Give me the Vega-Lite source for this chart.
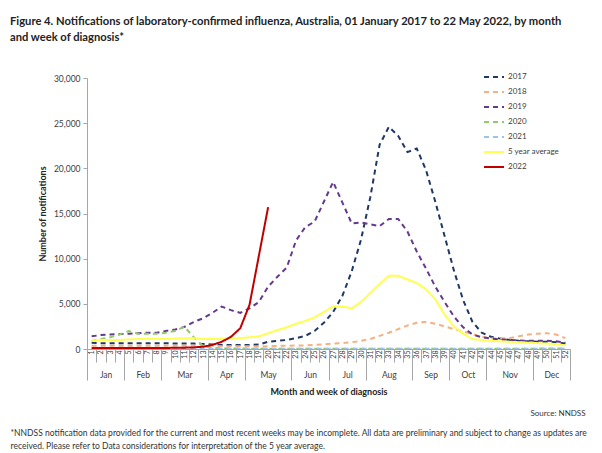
{
  "$schema": "https://vega.github.io/schema/vega-lite/v6.json",
  "width": 483,
  "height": 271,
  "autosize": {"type": "none"},
  "padding": {"left": 87, "top": 78, "right": 32, "bottom": 104},
  "title": {
    "text": ["Figure 4. Notifications of laboratory-confirmed influenza, Australia, 01 January 2017 to 22 May 2022, by month", "and week of diagnosis*"],
    "anchor": "start",
    "frame": "group",
    "dx": -77,
    "fontSize": 11.2,
    "fontWeight": "bold",
    "color": "#222222",
    "lineHeight": 16,
    "offset": 23
  },
  "datasets": {
    "months": [
      {"month": "Jan", "first": 1, "last": 4},
      {"month": "Feb", "first": 5, "last": 8},
      {"month": "Mar", "first": 9, "last": 13},
      {"month": "Apr", "first": 14, "last": 17},
      {"month": "May", "first": 18, "last": 22},
      {"month": "Jun", "first": 23, "last": 26},
      {"month": "Jul", "first": 27, "last": 30},
      {"month": "Aug", "first": 31, "last": 35},
      {"month": "Sep", "first": 36, "last": 39},
      {"month": "Oct", "first": 40, "last": 43},
      {"month": "Nov", "first": 44, "last": 48},
      {"month": "Dec", "first": 49, "last": 52}
    ],
    "flu": [
      {"w":1,"s":"2017","v":700},{"w":2,"s":"2017","v":650},{"w":3,"s":"2017","v":650},{"w":4,"s":"2017","v":650},{"w":5,"s":"2017","v":650},{"w":6,"s":"2017","v":650},{"w":7,"s":"2017","v":650},{"w":8,"s":"2017","v":650},{"w":9,"s":"2017","v":650},{"w":10,"s":"2017","v":600},
      {"w":11,"s":"2017","v":600},{"w":12,"s":"2017","v":600},{"w":13,"s":"2017","v":550},{"w":14,"s":"2017","v":500},{"w":15,"s":"2017","v":450},{"w":16,"s":"2017","v":450},{"w":17,"s":"2017","v":450},{"w":18,"s":"2017","v":450},{"w":19,"s":"2017","v":500},{"w":20,"s":"2017","v":800},
      {"w":21,"s":"2017","v":900},{"w":22,"s":"2017","v":1000},{"w":23,"s":"2017","v":1200},{"w":24,"s":"2017","v":1450},{"w":25,"s":"2017","v":2000},{"w":26,"s":"2017","v":2900},{"w":27,"s":"2017","v":4100},{"w":28,"s":"2017","v":5900},{"w":29,"s":"2017","v":8600},{"w":30,"s":"2017","v":12100},
      {"w":31,"s":"2017","v":16800},{"w":32,"s":"2017","v":22600},{"w":33,"s":"2017","v":24600},{"w":34,"s":"2017","v":23600},{"w":35,"s":"2017","v":21800},{"w":36,"s":"2017","v":22200},{"w":37,"s":"2017","v":19800},{"w":38,"s":"2017","v":16300},{"w":39,"s":"2017","v":12500},{"w":40,"s":"2017","v":8700},
      {"w":41,"s":"2017","v":5400},{"w":42,"s":"2017","v":3000},{"w":43,"s":"2017","v":1800},{"w":44,"s":"2017","v":1350},{"w":45,"s":"2017","v":1150},{"w":46,"s":"2017","v":1000},{"w":47,"s":"2017","v":900},{"w":48,"s":"2017","v":850},{"w":49,"s":"2017","v":800},{"w":50,"s":"2017","v":800},
      {"w":51,"s":"2017","v":750},{"w":52,"s":"2017","v":600},

      {"w":1,"s":"2018","v":350},{"w":2,"s":"2018","v":350},{"w":3,"s":"2018","v":350},{"w":4,"s":"2018","v":350},{"w":5,"s":"2018","v":350},{"w":6,"s":"2018","v":350},{"w":7,"s":"2018","v":350},{"w":8,"s":"2018","v":350},{"w":9,"s":"2018","v":350},{"w":10,"s":"2018","v":350},
      {"w":11,"s":"2018","v":350},{"w":12,"s":"2018","v":350},{"w":13,"s":"2018","v":350},{"w":14,"s":"2018","v":350},{"w":15,"s":"2018","v":300},{"w":16,"s":"2018","v":300},{"w":17,"s":"2018","v":300},{"w":18,"s":"2018","v":300},{"w":19,"s":"2018","v":250},{"w":20,"s":"2018","v":300},
      {"w":21,"s":"2018","v":350},{"w":22,"s":"2018","v":350},{"w":23,"s":"2018","v":400},{"w":24,"s":"2018","v":400},{"w":25,"s":"2018","v":450},{"w":26,"s":"2018","v":500},{"w":27,"s":"2018","v":600},{"w":28,"s":"2018","v":650},{"w":29,"s":"2018","v":750},{"w":30,"s":"2018","v":900},
      {"w":31,"s":"2018","v":1100},{"w":32,"s":"2018","v":1450},{"w":33,"s":"2018","v":1800},{"w":34,"s":"2018","v":2200},{"w":35,"s":"2018","v":2600},{"w":36,"s":"2018","v":2900},{"w":37,"s":"2018","v":3000},{"w":38,"s":"2018","v":2800},{"w":39,"s":"2018","v":2500},{"w":40,"s":"2018","v":2200},
      {"w":41,"s":"2018","v":1950},{"w":42,"s":"2018","v":1650},{"w":43,"s":"2018","v":1350},{"w":44,"s":"2018","v":1200},{"w":45,"s":"2018","v":1150},{"w":46,"s":"2018","v":1200},{"w":47,"s":"2018","v":1400},{"w":48,"s":"2018","v":1600},{"w":49,"s":"2018","v":1700},{"w":50,"s":"2018","v":1750},
      {"w":51,"s":"2018","v":1600},{"w":52,"s":"2018","v":1200},

      {"w":1,"s":"2019","v":1400},{"w":2,"s":"2019","v":1550},{"w":3,"s":"2019","v":1600},{"w":4,"s":"2019","v":1650},{"w":5,"s":"2019","v":1700},{"w":6,"s":"2019","v":1750},{"w":7,"s":"2019","v":1800},{"w":8,"s":"2019","v":1800},{"w":9,"s":"2019","v":2000},{"w":10,"s":"2019","v":2150},
      {"w":11,"s":"2019","v":2450},{"w":12,"s":"2019","v":3000},{"w":13,"s":"2019","v":3400},{"w":14,"s":"2019","v":4000},{"w":15,"s":"2019","v":4700},{"w":16,"s":"2019","v":4300},{"w":17,"s":"2019","v":4000},{"w":18,"s":"2019","v":4500},{"w":19,"s":"2019","v":5200},{"w":20,"s":"2019","v":6900},
      {"w":21,"s":"2019","v":8000},{"w":22,"s":"2019","v":9000},{"w":23,"s":"2019","v":12000},{"w":24,"s":"2019","v":13500},{"w":25,"s":"2019","v":14100},{"w":26,"s":"2019","v":16300},{"w":27,"s":"2019","v":18500},{"w":28,"s":"2019","v":16200},{"w":29,"s":"2019","v":13900},{"w":30,"s":"2019","v":14000},
      {"w":31,"s":"2019","v":13800},{"w":32,"s":"2019","v":13600},{"w":33,"s":"2019","v":14400},{"w":34,"s":"2019","v":14400},{"w":35,"s":"2019","v":13000},{"w":36,"s":"2019","v":10800},{"w":37,"s":"2019","v":8900},{"w":38,"s":"2019","v":6900},{"w":39,"s":"2019","v":5200},{"w":40,"s":"2019","v":3600},
      {"w":41,"s":"2019","v":2400},{"w":42,"s":"2019","v":1600},{"w":43,"s":"2019","v":1300},{"w":44,"s":"2019","v":1150},{"w":45,"s":"2019","v":1050},{"w":46,"s":"2019","v":1000},{"w":47,"s":"2019","v":950},{"w":48,"s":"2019","v":900},{"w":49,"s":"2019","v":900},{"w":50,"s":"2019","v":900},
      {"w":51,"s":"2019","v":850},{"w":52,"s":"2019","v":700},

      {"w":1,"s":"2020","v":900},{"w":2,"s":"2020","v":1100},{"w":3,"s":"2020","v":1300},{"w":4,"s":"2020","v":1600},{"w":5,"s":"2020","v":2000},{"w":6,"s":"2020","v":1700},{"w":7,"s":"2020","v":1700},{"w":8,"s":"2020","v":1700},{"w":9,"s":"2020","v":1800},{"w":10,"s":"2020","v":2000},
      {"w":11,"s":"2020","v":2450},{"w":12,"s":"2020","v":1300},{"w":13,"s":"2020","v":300},{"w":14,"s":"2020","v":120},{"w":15,"s":"2020","v":80},{"w":16,"s":"2020","v":60},{"w":17,"s":"2020","v":50},{"w":18,"s":"2020","v":40},{"w":19,"s":"2020","v":40},{"w":20,"s":"2020","v":30},
      {"w":21,"s":"2020","v":30},{"w":22,"s":"2020","v":30},{"w":23,"s":"2020","v":30},{"w":24,"s":"2020","v":20},{"w":25,"s":"2020","v":20},{"w":26,"s":"2020","v":20},{"w":27,"s":"2020","v":20},{"w":28,"s":"2020","v":20},{"w":29,"s":"2020","v":20},{"w":30,"s":"2020","v":20},
      {"w":31,"s":"2020","v":20},{"w":32,"s":"2020","v":20},{"w":33,"s":"2020","v":20},{"w":34,"s":"2020","v":20},{"w":35,"s":"2020","v":20},{"w":36,"s":"2020","v":20},{"w":37,"s":"2020","v":20},{"w":38,"s":"2020","v":20},{"w":39,"s":"2020","v":20},{"w":40,"s":"2020","v":20},
      {"w":41,"s":"2020","v":30},{"w":42,"s":"2020","v":30},{"w":43,"s":"2020","v":30},{"w":44,"s":"2020","v":30},{"w":45,"s":"2020","v":40},{"w":46,"s":"2020","v":40},{"w":47,"s":"2020","v":40},{"w":48,"s":"2020","v":40},{"w":49,"s":"2020","v":40},{"w":50,"s":"2020","v":50},
      {"w":51,"s":"2020","v":50},{"w":52,"s":"2020","v":50},

      {"w":1,"s":"2021","v":40},{"w":2,"s":"2021","v":40},{"w":3,"s":"2021","v":40},{"w":4,"s":"2021","v":40},{"w":5,"s":"2021","v":40},{"w":6,"s":"2021","v":40},{"w":7,"s":"2021","v":40},{"w":8,"s":"2021","v":40},{"w":9,"s":"2021","v":40},{"w":10,"s":"2021","v":40},
      {"w":11,"s":"2021","v":40},{"w":12,"s":"2021","v":40},{"w":13,"s":"2021","v":40},{"w":14,"s":"2021","v":30},{"w":15,"s":"2021","v":30},{"w":16,"s":"2021","v":30},{"w":17,"s":"2021","v":30},{"w":18,"s":"2021","v":30},{"w":19,"s":"2021","v":30},{"w":20,"s":"2021","v":30},
      {"w":21,"s":"2021","v":20},{"w":22,"s":"2021","v":20},{"w":23,"s":"2021","v":20},{"w":24,"s":"2021","v":20},{"w":25,"s":"2021","v":20},{"w":26,"s":"2021","v":20},{"w":27,"s":"2021","v":20},{"w":28,"s":"2021","v":20},{"w":29,"s":"2021","v":20},{"w":30,"s":"2021","v":20},
      {"w":31,"s":"2021","v":20},{"w":32,"s":"2021","v":20},{"w":33,"s":"2021","v":20},{"w":34,"s":"2021","v":20},{"w":35,"s":"2021","v":20},{"w":36,"s":"2021","v":20},{"w":37,"s":"2021","v":20},{"w":38,"s":"2021","v":20},{"w":39,"s":"2021","v":20},{"w":40,"s":"2021","v":20},
      {"w":41,"s":"2021","v":20},{"w":42,"s":"2021","v":20},{"w":43,"s":"2021","v":20},{"w":44,"s":"2021","v":20},{"w":45,"s":"2021","v":20},{"w":46,"s":"2021","v":20},{"w":47,"s":"2021","v":20},{"w":48,"s":"2021","v":20},{"w":49,"s":"2021","v":20},{"w":50,"s":"2021","v":20},
      {"w":51,"s":"2021","v":20},{"w":52,"s":"2021","v":20},

      {"w":1,"s":"5 year average","v":900},{"w":2,"s":"5 year average","v":1000},{"w":3,"s":"5 year average","v":1000},{"w":4,"s":"5 year average","v":1000},{"w":5,"s":"5 year average","v":1050},{"w":6,"s":"5 year average","v":1100},{"w":7,"s":"5 year average","v":1100},{"w":8,"s":"5 year average","v":1100},{"w":9,"s":"5 year average","v":1100},{"w":10,"s":"5 year average","v":1150},
      {"w":11,"s":"5 year average","v":1200},{"w":12,"s":"5 year average","v":1200},{"w":13,"s":"5 year average","v":1100},{"w":14,"s":"5 year average","v":1100},{"w":15,"s":"5 year average","v":1150},{"w":16,"s":"5 year average","v":1150},{"w":17,"s":"5 year average","v":1200},{"w":18,"s":"5 year average","v":1300},{"w":19,"s":"5 year average","v":1400},{"w":20,"s":"5 year average","v":1750},
      {"w":21,"s":"5 year average","v":2100},{"w":22,"s":"5 year average","v":2400},{"w":23,"s":"5 year average","v":2800},{"w":24,"s":"5 year average","v":3100},{"w":25,"s":"5 year average","v":3500},{"w":26,"s":"5 year average","v":4100},{"w":27,"s":"5 year average","v":4700},{"w":28,"s":"5 year average","v":4700},{"w":29,"s":"5 year average","v":4500},{"w":30,"s":"5 year average","v":5200},
      {"w":31,"s":"5 year average","v":6200},{"w":32,"s":"5 year average","v":7200},{"w":33,"s":"5 year average","v":8100},{"w":34,"s":"5 year average","v":8100},{"w":35,"s":"5 year average","v":7700},{"w":36,"s":"5 year average","v":7300},{"w":37,"s":"5 year average","v":6600},{"w":38,"s":"5 year average","v":5500},{"w":39,"s":"5 year average","v":3800},{"w":40,"s":"5 year average","v":2500},
      {"w":41,"s":"5 year average","v":1700},{"w":42,"s":"5 year average","v":1100},{"w":43,"s":"5 year average","v":1000},{"w":44,"s":"5 year average","v":900},{"w":45,"s":"5 year average","v":850},{"w":46,"s":"5 year average","v":800},{"w":47,"s":"5 year average","v":750},{"w":48,"s":"5 year average","v":700},{"w":49,"s":"5 year average","v":650},{"w":50,"s":"5 year average","v":600},
      {"w":51,"s":"5 year average","v":550},{"w":52,"s":"5 year average","v":400},

      {"w":1,"s":"2022","v":100},{"w":2,"s":"2022","v":100},{"w":3,"s":"2022","v":100},{"w":4,"s":"2022","v":100},{"w":5,"s":"2022","v":100},{"w":6,"s":"2022","v":100},{"w":7,"s":"2022","v":100},{"w":8,"s":"2022","v":110},{"w":9,"s":"2022","v":120},{"w":10,"s":"2022","v":130},
      {"w":11,"s":"2022","v":150},{"w":12,"s":"2022","v":180},{"w":13,"s":"2022","v":250},{"w":14,"s":"2022","v":450},{"w":15,"s":"2022","v":800},{"w":16,"s":"2022","v":1350},{"w":17,"s":"2022","v":2300},{"w":18,"s":"2022","v":4900},{"w":19,"s":"2022","v":10300},{"w":20,"s":"2022","v":15700}
    ]
  },
  "layer": [
    {
      "data": {"name": "flu"},
      "mark": {"type": "line", "strokeCap": "butt", "clip": true},
      "encoding": {
        "x": {
          "field": "w", "type": "quantitative",
          "scale": {"domain": [0.5, 52.5], "nice": false, "zero": false},
          "axis": {
            "orient": "bottom",
            "values": [1,2,3,4,5,6,7,8,9,10,11,12,13,14,15,16,17,18,19,20,21,22,23,24,25,26,27,28,29,30,31,32,33,34,35,36,37,38,39,40,41,42,43,44,45,46,47,48,49,50,51,52],
            "labelAngle": -90,
            "labelFontSize": 7,
            "labelColor": "#404040",
            "labelPadding": -12,
            "labelFlush": false,
            "labelOverlap": false,
            "tickOffset": 4.645,
            "labelOffset": -4.645,
            "tickSize": 13,
            "grid": false,
            "title": ["*NNDSS notification data provided for the current and most recent weeks may be incomplete. All data are preliminary and subject to change as updates are", "received. Please refer to Data considerations for interpretation of the 5 year average."],
            "titleX": -77,
            "titleY": 83,
            "titleAlign": "left",
            "titleAngle": 0,
            "titleBaseline": "middle",
            "titleFontWeight": "normal",
            "titleFontSize": 8.5,
            "titleLineHeight": 13,
            "titleColor": "#333333"
          }
        },
        "y": {
          "field": "v", "type": "quantitative",
          "scale": {"domain": [0, 30000], "nice": false},
          "axis": {
            "values": [0, 5000, 10000, 15000, 20000, 25000, 30000],
            "format": ",.0f",
            "grid": false,
            "tickSize": 4,
            "labelFontSize": 8.5,
            "labelColor": "#404040",
            "labelPadding": 3,
            "title": "Number of notifications",
            "titleFontSize": 9,
            "titleFontWeight": "bold",
            "titleColor": "#222222",
            "titlePadding": 6
          }
        },
        "color": {
          "field": "s", "type": "nominal",
          "scale": {
            "domain": ["2017", "2018", "2019", "2020", "2021", "5 year average", "2022"],
            "range": ["#1F3864", "#F4B183", "#653A8E", "#92C96A", "#9DC3E6", "#FFFF4F", "#C00000"]
          },
          "legend": {"title": null}
        },
        "strokeDash": {
          "field": "s", "type": "nominal",
          "scale": {
            "domain": ["2017", "2018", "2019", "2020", "2021", "5 year average", "2022"],
            "range": [[5, 4], [5, 4], [5, 4], [5, 4], [5, 4], [1, 0], [1, 0]]
          },
          "legend": {"title": null}
        },
        "strokeWidth": {
          "field": "s", "type": "nominal",
          "scale": {
            "domain": ["2017", "2018", "2019", "2020", "2021", "5 year average", "2022"],
            "range": [2, 2, 2, 2, 2, 3.5, 2.5]
          },
          "legend": {"title": null}
        }
      }
    },
    {
      "data": {"name": "months"},
      "transform": [{"calculate": "(datum.first + datum.last) / 2", "as": "mid"}],
      "mark": {"type": "text", "opacity": 0},
      "encoding": {
        "x": {
          "field": "mid", "type": "quantitative",
          "scale": {"domain": [0.5, 52.5], "nice": false, "zero": false},
          "axis": {
            "orient": "bottom",
            "values": [2.5, 6.5, 11, 15.5, 20, 24.5, 28.5, 33, 37.5, 41.5, 46, 50.5],
            "labelExpr": "['Jan','Feb','Mar','Apr','May','Jun','Jul','Aug','Sep','Oct','Nov','Dec'][indexof([2.5,6.5,11,15.5,20,24.5,28.5,33,37.5,41.5,46,50.5], datum.value)]",
            "domain": false,
            "ticks": false,
            "grid": false,
            "labelPadding": 21,
            "labelFontSize": 8.5,
            "labelColor": "#404040",
            "labelFlush": false,
            "labelOverlap": false,
            "title": "Month and week of diagnosis",
            "titleFontSize": 9,
            "titleFontWeight": "bold",
            "titleColor": "#222222",
            "titlePadding": 9
          }
        },
        "text": {"field": "month"}
      }
    },
    {
      "data": {"name": "months"},
      "transform": [{"calculate": "datum.last + 0.5", "as": "edge"}],
      "mark": {"type": "text", "opacity": 0},
      "encoding": {
        "x": {
          "field": "edge", "type": "quantitative",
          "scale": {"domain": [0.5, 52.5], "nice": false, "zero": false},
          "axis": {
            "orient": "bottom",
            "values": [0.5, 4.5, 8.5, 13.5, 17.5, 22.5, 26.5, 30.5, 35.5, 39.5, 43.5, 48.5, 52.5],
            "labels": false,
            "domain": false,
            "grid": false,
            "ticks": true,
            "tickSize": 31,
            "title": "Source: NNDSS",
            "titleX": 498,
            "titleY": 64,
            "titleAlign": "right",
            "titleAngle": 0,
            "titleBaseline": "middle",
            "titleFontWeight": "normal",
            "titleFontSize": 8,
            "titleColor": "#333333"
          }
        },
        "text": {"field": "month"}
      }
    }
  ],
  "resolve": {"scale": {"x": "independent"}, "axis": {"x": "independent"}},
  "config": {
    "font": "Lato",
    "view": {"stroke": null},
    "axis": {"domainColor": "#A6A6A6", "tickColor": "#A6A6A6"},
    "legend": {
      "orient": "none",
      "legendX": 396,
      "legendY": -12,
      "symbolType": "stroke",
      "symbolSize": 400,
      "labelFontSize": 8,
      "labelColor": "#404040",
      "labelOffset": 3,
      "rowPadding": -0.3
    }
  }
}
